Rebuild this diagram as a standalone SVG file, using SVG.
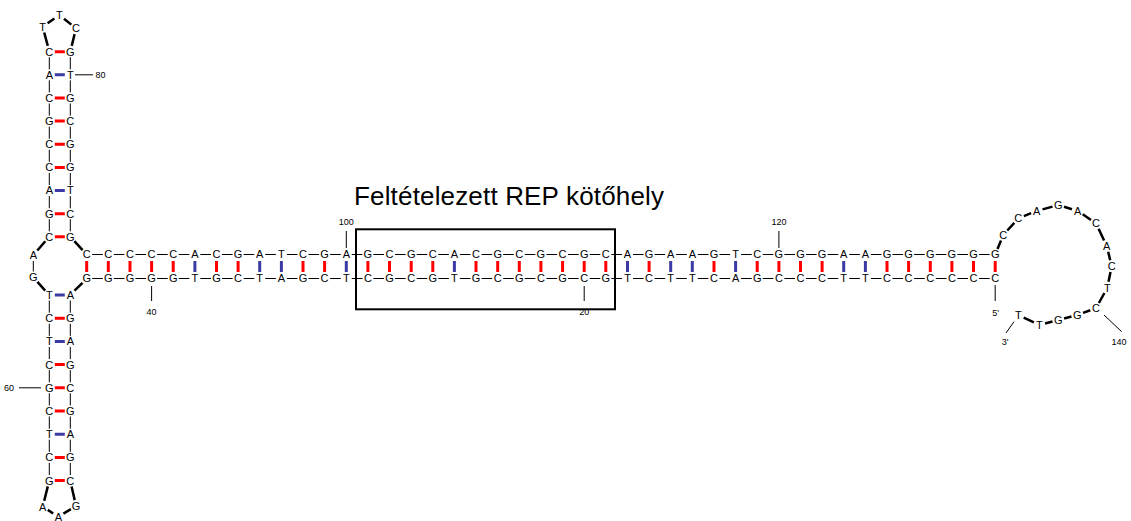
<svg xmlns="http://www.w3.org/2000/svg" width="1131" height="521" viewBox="0 0 1131 521">
<style>
text { font-family: "Liberation Sans", Arial, sans-serif; fill: #000; text-anchor: middle; }
.nt { font-size: 11px; }
.num { font-size: 9px; }
.title { font-size: 26px; text-anchor: start; }
.bb { stroke: #000; stroke-width: 1; fill: none; }
.lp { stroke: #000; stroke-width: 2.5; fill: none; }
.gc { stroke: #ff0000; stroke-width: 3; fill: none; }
.at { stroke: #3b3ba3; stroke-width: 3; fill: none; }
.tick { stroke: #000; stroke-width: 1; fill: none; }
</style>
<rect width="1131" height="521" fill="#fff"/>

<g id="connectors">
  <!-- helix backbones -->
  <line class="bb" x1="92.2" y1="254.5" x2="989.7" y2="254.5" stroke-dasharray="10.63 11"/>
  <line class="bb" x1="92.2" y1="278.5" x2="989.7" y2="278.5" stroke-dasharray="10.63 11"/>
  <!-- stem backbones -->
  <line class="bb" x1="49.3" y1="57.2" x2="49.3" y2="231.3" stroke-dasharray="12.14 11"/>
  <line class="bb" x1="70.3" y1="57.2" x2="70.3" y2="231.3" stroke-dasharray="12.14 11"/>
  <line class="bb" x1="49.3" y1="300.5" x2="49.3" y2="475.1" stroke-dasharray="12.2 11"/>
  <line class="bb" x1="70.3" y1="300.5" x2="70.3" y2="475.1" stroke-dasharray="12.2 11"/>
  <line class="bb" x1="33.3" y1="261" x2="33.3" y2="271.5" stroke-width="1.3"/>
  <!-- helix pairs -->
  <path class="gc" d="M86.7 261V272M108.3 261V272M130 261V272M151.6 261V272M173.2 261V272M216.5 261V272M238.1 261V272M303 261V272M324.6 261V272M367.9 261V272M389.5 261V272M411.2 261V272M432.8 261V272M476 261V272M497.7 261V272M519.3 261V272M540.9 261V272M562.6 261V272M584.2 261V272M605.8 261V272M649.1 261V272M714 261V272M757.2 261V272M778.9 261V272M800.5 261V272M822.1 261V272M887 261V272M908.6 261V272M930.3 261V272M951.9 261V272M973.5 261V272M995.2 261V272"/>
  <path class="at" d="M194.9 261V272M259.7 261V272M281.4 261V272M346.3 261V272M454.4 261V272M627.5 261V272M670.7 261V272M692.3 261V272M735.6 261V272M843.7 261V272M865.4 261V272"/>
  <!-- stem pairs -->
  <path class="gc" d="M54.8 51.7H64.8M54.8 98H64.8M54.8 121.1H64.8M54.8 144.3H64.8M54.8 167.4H64.8M54.8 213.7H64.8M54.8 236.8H64.8M54.8 318.2H64.8M54.8 364.6H64.8M54.8 387.8H64.8M54.8 411H64.8M54.8 457.4H64.8M54.8 480.6H64.8"/>
  <path class="at" d="M54.8 74.8H64.8M54.8 190.5H64.8M54.8 295H64.8M54.8 341.4H64.8M54.8 434.2H64.8"/>
  <!-- loop backbones -->
  <path class="lp" d="M47.8 45.9L44.2 32.5M47.6 23.2L54.4 18.5M64 18.7L71.3 24.6M74.6 34.1L71.7 45.9"/>
  <path class="lp" d="M71.6 486.5L74.7 500.1M70.9 509.1L63.4 513.6M53.2 513.5L47.8 509.9M44.2 500.9L47.8 486.4"/>
  <path class="lp" d="M45.3 241.3L37.3 250.5M37.4 281.9L45.2 290.6M74.5 290.7L82.5 282.8M74.4 241.2L82.6 250.1"/>
  <path class="lp" d="M997.5 249L1001 240.5M1007.3 230.5L1014.3 222.8M1023.9 216.1L1031.1 213.2M1042.5 209.4L1052.5 206.6M1064 206.8L1072 209.2M1082.7 214.3L1091 220M1098.6 228.7L1104.1 240.6M1108.2 251.8L1110.2 260.2M1110.5 271.9L1108.5 281.8M1104.4 293L1098.9 303M1090.3 310.3L1083 312.9M1071.5 316.5L1064.1 318.5M1052.5 321.5L1045.1 323.5M1033.9 322.4L1023.7 317.6"/>
  <!-- numbering ticks -->
  <path class="tick" d="M75 74.8H93M19 387.8H41M346.3 231V248M778.9 231V248M151.6 286V301M584.2 286V301M995.2 285V301M1104 315L1121.7 331.7M1014 321.7L1006 333"/>
</g>

<g id="stem-top">
  <text class="nt" x="42.7" y="30.6">T</text><text class="nt" x="59.3" y="18.9">T</text><text class="nt" x="76" y="32.2">C</text>
  <text class="nt" x="49.3" y="55.6">C</text><text class="nt" x="49.3" y="78.7">A</text><text class="nt" x="49.3" y="101.9">C</text><text class="nt" x="49.3" y="125">G</text><text class="nt" x="49.3" y="148.2">C</text><text class="nt" x="49.3" y="171.3">C</text><text class="nt" x="49.3" y="194.4">A</text><text class="nt" x="49.3" y="217.6">G</text><text class="nt" x="49.3" y="240.7">C</text>
  <text class="nt" x="70.3" y="55.6">G</text><text class="nt" x="70.3" y="78.7">T</text><text class="nt" x="70.3" y="101.9">G</text><text class="nt" x="70.3" y="125">C</text><text class="nt" x="70.3" y="148.2">G</text><text class="nt" x="70.3" y="171.3">G</text><text class="nt" x="70.3" y="194.4">T</text><text class="nt" x="70.3" y="217.6">C</text><text class="nt" x="70.3" y="240.7">G</text>
</g>

<g id="junction">
  <text class="nt" x="33.3" y="258.9">A</text><text class="nt" x="33.3" y="281.4">G</text>
</g>

<g id="stem-bottom">
  <text class="nt" x="49.3" y="298.9">T</text><text class="nt" x="49.3" y="322.1">C</text><text class="nt" x="49.3" y="345.3">T</text><text class="nt" x="49.3" y="368.5">C</text><text class="nt" x="49.3" y="391.7">G</text><text class="nt" x="49.3" y="414.9">C</text><text class="nt" x="49.3" y="438.1">T</text><text class="nt" x="49.3" y="461.3">C</text><text class="nt" x="49.3" y="484.5">G</text>
  <text class="nt" x="70.3" y="298.9">A</text><text class="nt" x="70.3" y="322.1">G</text><text class="nt" x="70.3" y="345.3">A</text><text class="nt" x="70.3" y="368.5">G</text><text class="nt" x="70.3" y="391.7">C</text><text class="nt" x="70.3" y="414.9">G</text><text class="nt" x="70.3" y="438.1">A</text><text class="nt" x="70.3" y="461.3">G</text><text class="nt" x="70.3" y="484.5">C</text>
  <text class="nt" x="42.7" y="510.6">A</text><text class="nt" x="58.3" y="520.6">A</text><text class="nt" x="76" y="509.9">G</text>
</g>

<g id="helix-top">
  <text class="nt" x="86.7" y="258.4">C</text><text class="nt" x="108.3" y="258.4">C</text><text class="nt" x="130" y="258.4">C</text><text class="nt" x="151.6" y="258.4">C</text><text class="nt" x="173.2" y="258.4">C</text><text class="nt" x="194.9" y="258.4">A</text><text class="nt" x="216.5" y="258.4">C</text><text class="nt" x="238.1" y="258.4">G</text><text class="nt" x="259.7" y="258.4">A</text><text class="nt" x="281.4" y="258.4">T</text><text class="nt" x="303" y="258.4">C</text><text class="nt" x="324.6" y="258.4">G</text><text class="nt" x="346.3" y="258.4">A</text>
  <text class="nt" x="367.9" y="258.4">G</text><text class="nt" x="389.5" y="258.4">C</text><text class="nt" x="411.2" y="258.4">G</text><text class="nt" x="432.8" y="258.4">C</text><text class="nt" x="454.4" y="258.4">A</text><text class="nt" x="476" y="258.4">C</text><text class="nt" x="497.7" y="258.4">G</text><text class="nt" x="519.3" y="258.4">C</text><text class="nt" x="540.9" y="258.4">G</text><text class="nt" x="562.6" y="258.4">C</text><text class="nt" x="584.2" y="258.4">G</text><text class="nt" x="605.8" y="258.4">C</text>
  <text class="nt" x="627.5" y="258.4">A</text><text class="nt" x="649.1" y="258.4">G</text><text class="nt" x="670.7" y="258.4">A</text><text class="nt" x="692.3" y="258.4">A</text><text class="nt" x="714" y="258.4">G</text><text class="nt" x="735.6" y="258.4">T</text><text class="nt" x="757.2" y="258.4">C</text><text class="nt" x="778.9" y="258.4">G</text><text class="nt" x="800.5" y="258.4">G</text><text class="nt" x="822.1" y="258.4">G</text><text class="nt" x="843.7" y="258.4">A</text><text class="nt" x="865.4" y="258.4">A</text><text class="nt" x="887" y="258.4">G</text><text class="nt" x="908.6" y="258.4">G</text><text class="nt" x="930.3" y="258.4">G</text><text class="nt" x="951.9" y="258.4">G</text><text class="nt" x="973.5" y="258.4">G</text><text class="nt" x="995.2" y="258.4">G</text>
</g>

<g id="helix-bottom">
  <text class="nt" x="86.7" y="282.4">G</text><text class="nt" x="108.3" y="282.4">G</text><text class="nt" x="130" y="282.4">G</text><text class="nt" x="151.6" y="282.4">G</text><text class="nt" x="173.2" y="282.4">G</text><text class="nt" x="194.9" y="282.4">T</text><text class="nt" x="216.5" y="282.4">G</text><text class="nt" x="238.1" y="282.4">C</text><text class="nt" x="259.7" y="282.4">T</text><text class="nt" x="281.4" y="282.4">A</text><text class="nt" x="303" y="282.4">G</text><text class="nt" x="324.6" y="282.4">C</text><text class="nt" x="346.3" y="282.4">T</text>
  <text class="nt" x="367.9" y="282.4">C</text><text class="nt" x="389.5" y="282.4">G</text><text class="nt" x="411.2" y="282.4">C</text><text class="nt" x="432.8" y="282.4">G</text><text class="nt" x="454.4" y="282.4">T</text><text class="nt" x="476" y="282.4">G</text><text class="nt" x="497.7" y="282.4">C</text><text class="nt" x="519.3" y="282.4">G</text><text class="nt" x="540.9" y="282.4">C</text><text class="nt" x="562.6" y="282.4">G</text><text class="nt" x="584.2" y="282.4">C</text><text class="nt" x="605.8" y="282.4">G</text>
  <text class="nt" x="627.5" y="282.4">T</text><text class="nt" x="649.1" y="282.4">C</text><text class="nt" x="670.7" y="282.4">T</text><text class="nt" x="692.3" y="282.4">T</text><text class="nt" x="714" y="282.4">C</text><text class="nt" x="735.6" y="282.4">A</text><text class="nt" x="757.2" y="282.4">G</text><text class="nt" x="778.9" y="282.4">C</text><text class="nt" x="800.5" y="282.4">C</text><text class="nt" x="822.1" y="282.4">C</text><text class="nt" x="843.7" y="282.4">T</text><text class="nt" x="865.4" y="282.4">T</text><text class="nt" x="887" y="282.4">C</text><text class="nt" x="908.6" y="282.4">C</text><text class="nt" x="930.3" y="282.4">C</text><text class="nt" x="951.9" y="282.4">C</text><text class="nt" x="973.5" y="282.4">C</text><text class="nt" x="995.2" y="282.4">C</text>
</g>

<g id="loop-right">
  <text class="nt" x="1003.3" y="238.9">C</text><text class="nt" x="1018.3" y="222.2">C</text><text class="nt" x="1036.7" y="214.9">A</text><text class="nt" x="1058.3" y="208.9">G</text><text class="nt" x="1077.7" y="214.9">A</text><text class="nt" x="1096" y="227.2">C</text><text class="nt" x="1106.7" y="249.9">A</text><text class="nt" x="1111.7" y="269.9">C</text><text class="nt" x="1107.3" y="291.6">T</text><text class="nt" x="1096" y="312.2">C</text><text class="nt" x="1077.3" y="318.9">G</text><text class="nt" x="1058.3" y="323.9">G</text><text class="nt" x="1039.3" y="328.9">T</text><text class="nt" x="1018.3" y="318.9">T</text>
</g>

<g id="numbering">
  <text class="num" x="100.5" y="78">80</text>
  <text class="num" x="9" y="391">60</text>
  <text class="num" x="346.3" y="225">100</text>
  <text class="num" x="778.9" y="225">120</text>
  <text class="num" x="151.6" y="315">40</text>
  <text class="num" x="584.2" y="315">20</text>
  <text class="num" x="995.5" y="316">5'</text>
  <text class="num" x="1119" y="345">140</text>
  <text class="num" x="1005" y="345">3'</text>
</g>

<g id="rep-site">
  <rect x="356" y="229.3" width="259" height="80" fill="none" stroke="#000" stroke-width="2"/>
  <text class="title" x="354" y="205" textLength="310">Feltételezett REP kötőhely</text>
</g>
</svg>
